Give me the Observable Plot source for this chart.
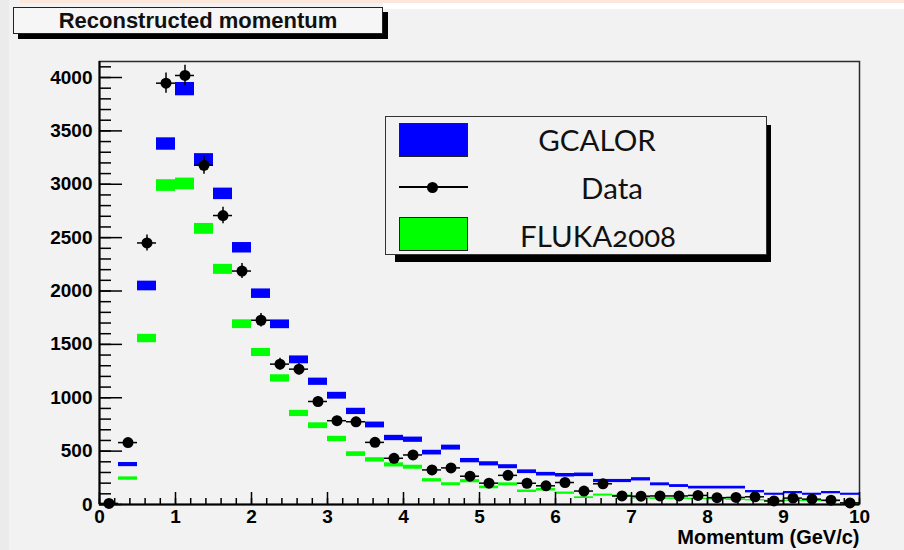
<!DOCTYPE html>
<html>
<head>
<meta charset="utf-8">
<script src="https://cdn.jsdelivr.net/npm/d3@7"></script>
<script src="https://cdn.jsdelivr.net/npm/@observablehq/plot@0.6"></script>
<style>
  html, body { margin: 0; padding: 0; background: #f2f2f2; }
  #wrap { position: relative; width: 904px; height: 550px; overflow: hidden; background: #f2f2f2; }
  .abs { position: absolute; }
  #title { left: 13px; top: 7px; width: 368px; height: 25px; border: 1.5px solid #222; background: #f6f6f6;
           font: bold 22px "Liberation Sans", Arial, sans-serif; text-align: center; line-height: 26px; color: #111; }
  #titleShadow { left: 18px; top: 12px; width: 370px; height: 27px; background: #000; }
  #legShadow { left: 395px; top: 125px; width: 376px; height: 137px; background: #000; }
  #legend { left: 385px; top: 116px; width: 380px; height: 137px; border: 1.5px solid #333; background: #f2f2f2; }
  .sw { position: absolute; border: 1px solid #222; box-sizing: border-box; }
  .lt { position: absolute; transform: translate(-50%, -50%); font: 29.5px Lato, "Open Sans", sans-serif; color: #111; white-space: nowrap;
        font-variant-numeric: oldstyle-nums; font-feature-settings: "onum" 1; }
</style>
</head>
<body>
<div id="wrap">
  <div class="abs" style="left:0;top:0;width:9px;height:550px;background:#ebebeb"></div>
  <div class="abs" style="left:20px;top:0;width:884px;height:3px;background:#fce8db"></div>
  <div class="abs" style="left:383px;top:3px;width:521px;height:6px;background:#ffffff"></div>
  <div id="chart" class="abs" style="left:0;top:0"></div>
  <div id="titleShadow" class="abs"></div>
  <div id="title" class="abs">Reconstructed momentum</div>
  <div id="legShadow" class="abs"></div>
  <div id="legend" class="abs"></div>
</div>
<script>
// Bin centres (GeV/c), bin width 0.25
const binCenters = [0.125,0.375,0.625,0.875,1.125,1.375,1.625,1.875,2.125,2.375,
                    2.625,2.875,3.125,3.375,3.625,3.875,4.125,4.375,4.625,4.875,
                    5.125,5.375,5.625,5.875,6.125,6.375,6.625,6.875,7.125,7.375,
                    7.625,7.875,8.125,8.375,8.625,8.875,9.125,9.375,9.625,9.875];
const binHalfWidth = 0.125;

const gcalor = [5,374,2047,3377,3891,3230,2910,2405,1975,1688,
                1355,1150,1019,872,745,623,607,486,533,411,
                381,354,307,284,274,278,220,220,236,189,
                173,158,158,158,120,96,111,96,111,96];

const fluka  = [8,243,1555,2988,3003,2582,2203,1689,1424,1181,
                853,738,614,472,418,371,349,227,190,218,
                160,189,124,138,106,64,88,80,60,55,
                55,52,50,45,40,35,35,33,30,15];

const data   = [10,580,2450,3947,4019,3178,2707,2187,1726,1315,
                1268,965,785,775,582,433,464,324,343,265,
                200,273,199,175,206,126,194,80,78,80,
                80,85,64,66,72,33,60,50,40,15];

const xMajor = [0,1,2,3,4,5,6,7,8,9,10];
const xMinor = [0,0.2,0.4,0.6,0.8,1,1.2,1.4,1.6,1.8,2,2.2,2.4,2.6,2.8,3,3.2,3.4,3.6,3.8,4,4.2,4.4,4.6,4.8,5,
                5.2,5.4,5.6,5.8,6,6.2,6.4,6.6,6.8,7,7.2,7.4,7.6,7.8,8,8.2,8.4,8.6,8.8,9,9.2,9.4,9.6,9.8,10];
const yMajor = [0,500,1000,1500,2000,2500,3000,3500,4000];
const yMinor = [0,100,200,300,400,500,600,700,800,900,1000,1100,1200,1300,1400,1500,1600,1700,1800,1900,
                2000,2100,2200,2300,2400,2500,2600,2700,2800,2900,3000,3100,3200,3300,3400,3500,3600,3700,3800,3900,4000,4100];

const seriesNames = ["GCALOR", "Data", "FLUKA2008"];
const seriesColors = ["#0000ff", "#000000", "#00ff00"];
const xLabel = "Momentum (GeV/c)";

const rows = binCenters.map((c, i) => ({c, g: gcalor[i], f: fluka[i], d: data[i]}));
const dataErrScale = 1.5;

const font = "'Liberation Sans', Arial, sans-serif";

const chart = Plot.plot({
  width: 904,
  height: 550,
  marginLeft: 99,
  marginRight: 45,
  marginTop: 61,
  marginBottom: 46,
  x: {domain: [0, 10]},
  y: {domain: [0, 4150]},
  style: {background: "transparent", fontFamily: font, color: "#000", overflow: "visible"},
  marks: [
    Plot.frame({stroke: "#2a2a2a", strokeWidth: 1.5}),
    // MC error boxes
    Plot.rect(rows, {x1: d => d.c - binHalfWidth, x2: d => d.c + binHalfWidth,
      y1: d => d.g - Math.sqrt(d.g), y2: d => d.g + Math.sqrt(d.g), fill: seriesColors[0]}),
    Plot.rect(rows, {x1: d => d.c - binHalfWidth, x2: d => d.c + binHalfWidth,
      y1: d => d.f - Math.sqrt(d.f), y2: d => d.f + Math.sqrt(d.f), fill: seriesColors[2]}),
    // Data points with error bars
    Plot.ruleY(rows, {y: "d", x1: d => d.c - binHalfWidth, x2: d => d.c + binHalfWidth, stroke: "#000", strokeWidth: 1.5}),
    Plot.ruleX(rows, {x: "c", y1: d => Math.max(0, d.d - dataErrScale * Math.sqrt(d.d)),
      y2: d => d.d + dataErrScale * Math.sqrt(d.d), stroke: "#000", strokeWidth: 1.5}),
    Plot.dot(rows, {x: "c", y: "d", r: 5.5, fill: "#000", stroke: "none"}),
    // axes: ticks pointing inward
    Plot.axisX({ticks: xMinor, tickSize: -6, text: null, label: null, strokeWidth: 1.5}),
    Plot.axisX({ticks: xMajor, tickSize: -12, text: null, label: null, strokeWidth: 1.5}),
    Plot.axisX({ticks: xMajor, tickSize: 0, tickPadding: 5, label: null, fontSize: 19, fontWeight: "bold",
      tickFormat: d => String(d)}),
    Plot.axisY({ticks: yMinor, tickSize: -12, text: null, label: null, strokeWidth: 1.5}),
    Plot.axisY({ticks: yMajor, tickSize: -23, text: null, label: null, strokeWidth: 1.5}),
    Plot.axisY({ticks: yMajor, tickSize: 0, tickPadding: 7, label: null, fontSize: 19, fontWeight: "bold",
      tickFormat: d => String(d)}),
    Plot.ruleX([0], {stroke: "#000", strokeWidth: 2}),
    Plot.ruleY([0], {stroke: "#000", strokeWidth: 2}),
    Plot.text([xLabel], {frameAnchor: "bottom-right", dy: 39, text: d => d, textAnchor: "end",
      fontSize: 20, fontWeight: "bold"})
  ]
});
document.getElementById("chart").appendChild(chart);

// Legend (inside plot frame)
const leg = document.getElementById("legend");
const legRows = [
  {name: seriesNames[0], kind: "box", color: seriesColors[0], top: 6, cx: 211},
  {name: seriesNames[1], kind: "marker", color: seriesColors[1], top: 70, cx: 226},
  {name: seriesNames[2], kind: "box", color: seriesColors[2], top: 100, cx: 212}
];
legRows.forEach(r => {
  if (r.kind === "box") {
    const s = document.createElement("div");
    s.className = "sw";
    s.style.cssText = `left:13px;top:${r.top}px;width:69px;height:34px;background:${r.color}`;
    leg.appendChild(s);
  } else {
    const l = document.createElement("div");
    l.className = "abs";
    l.style.cssText = `left:13px;top:${r.top - 1}px;width:69px;height:2px;background:#000`;
    leg.appendChild(l);
    const m = document.createElement("div");
    m.className = "abs";
    m.style.cssText = `left:41px;top:${r.top - 5.5}px;width:11px;height:11px;border-radius:50%;background:#000`;
    leg.appendChild(m);
  }
  const t = document.createElement("div");
  t.className = "lt";
  t.textContent = r.name;
  const cy = r.kind === "box" ? r.top + 16 : r.top;
  t.style.left = r.cx + "px";
  t.style.top = (r.kind === "box" && r.top > 50 ? cy + 2 : cy) + "px";
  leg.appendChild(t);
});
</script>
</body>
</html>
